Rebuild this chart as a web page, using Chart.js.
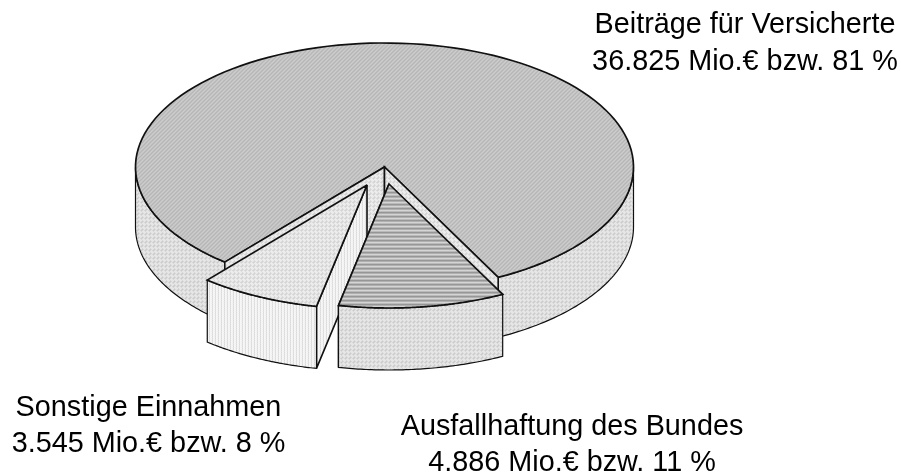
<!DOCTYPE html>
<html><head><meta charset="utf-8">
<style>html,body{margin:0;padding:0;background:#fff}canvas{display:block}</style>
<script src="https://cdn.jsdelivr.net/npm/chart.js@4"></script></head>
<body><canvas id="c" width="901" height="473"></canvas>
<script>
const categories = ["Beiträge für Versicherte", "Ausfallhaftung des Bundes", "Sonstige Einnahmen"];
const valuesMio = [36825, 4886, 3545];
const valueLabels = ["36.825 Mio.€ bzw. 81 %", "4.886 Mio.€ bzw. 11 %", "3.545 Mio.€ bzw. 8 %"];

function tile(rows){
  const h=rows.length,w=rows[0].length,t=document.createElement('canvas');t.width=w;t.height=h;
  const x=t.getContext('2d');
  rows.forEach((r,j)=>r.forEach((v,i)=>{x.fillStyle=`rgb(${v},${v},${v})`;x.fillRect(i,j,1,1);}));
  return x.createPattern(t,'repeat');
}
const ctx0=document.getElementById('c').getContext('2d');
const diag=()=>tile([[182,196,204,192],[196,204,192,182],[204,192,182,196],[192,182,196,204]]);
const dots=()=>tile([[230,230,214,230],[230,216,202,216],[214,202,214,230],[230,216,230,230]]);
const vstr=()=>tile([[246,246,218],[246,240,226]]);
const hstr=()=>tile([[150],[176],[212],[186]]);
const lightDots=()=>tile([[236,236,218,236],[236,222,210,222],[218,210,218,236],[236,222,236,236]]);

// The top of every slice is the same tilted disc, shifted to its own centre (exploded pie).
const RX=249,RY=124,DEPTH=60,DEPTH_FRONT=62;
const CENTRES={main:[384.5,167],aus:[389,184],son:[367,185]};

function discMatrix(arc,centre){
  const {x,y,outerRadius:R}=arc,a=RX/R,d=RY/R;
  return new DOMMatrix([a,0,0,d,centre[0]-a*x,centre[1]-d*y]);
}
const rimPt=(arc,m,t)=>{const p=m.transformPoint(new DOMPoint(arc.x+arc.outerRadius*Math.cos(t),arc.y+arc.outerRadius*Math.sin(t)));return [p.x,p.y];};

function poly(c,pts,fill,lw){
  c.beginPath();pts.forEach((p,i)=>i?c.lineTo(p[0],p[1]):c.moveTo(p[0],p[1]));c.closePath();
  c.fillStyle=fill;c.fill();c.lineWidth=lw;c.strokeStyle='#111';c.lineJoin='miter';c.miterLimit=3;c.stroke();
}
function rimWall(c,arc,m,t0,t1,fill,depth){
  const n=60,top=[];
  for(let i=0;i<=n;i++)top.push(rimPt(arc,m,t0+(t1-t0)*i/n));
  const bot=top.slice().reverse().map(p=>[p[0],p[1]+depth]);
  poly(c,top.concat(bot),fill,1.2);
}
function cutWall(c,apex,corner,fill,depth){
  poly(c,[apex,corner,[corner[0],corner[1]+depth],[apex[0],apex[1]+depth]],fill,1.6);
}
function face(c,arc,m,pattern,apex){
  pattern.setTransform(m.inverse());
  arc.options.backgroundColor=pattern;arc.options.borderWidth=0;
  c.save();c.setTransform(m);arc.draw(c);c.restore();
  const n=120,pts=[];
  for(let i=0;i<=n;i++)pts.push(rimPt(arc,m,arc.startAngle+(arc.endAngle-arc.startAngle)*i/n));
  c.beginPath();c.moveTo(apex[0],apex[1]);pts.forEach(p=>c.lineTo(p[0],p[1]));c.closePath();
  c.lineWidth=1.7;c.strokeStyle='#111';c.lineJoin='miter';c.miterLimit=3;c.stroke();
}
const pie3d={id:'pie3d',
  beforeDatasetDraw(chart){
    const c=chart.ctx,[main,aus,son]=chart.getDatasetMeta(0).data;
    const mM=discMatrix(main,CENTRES.main),mA=discMatrix(aus,CENTRES.aus),mS=discMatrix(son,CENTRES.son);
    const TAU=Math.PI*2;
    // outer side of the large slice (only the front is visible)
    rimWall(c,main,mM,main.endAngle-TAU,0,dots(),DEPTH);
    rimWall(c,main,mM,main.startAngle,Math.PI,dots(),DEPTH);
    face(c,main,mM,diag(),CENTRES.main);
    cutWall(c,CENTRES.main,rimPt(main,mM,main.startAngle),lightDots(),DEPTH);
    cutWall(c,CENTRES.main,rimPt(main,mM,main.endAngle),lightDots(),DEPTH);
    // smallest slice
    cutWall(c,CENTRES.son,rimPt(son,mS,son.startAngle),vstr(),DEPTH_FRONT);
    rimWall(c,son,mS,son.startAngle,son.endAngle,vstr(),DEPTH_FRONT);
    face(c,son,mS,lightDots(),CENTRES.son);
    // middle slice
    cutWall(c,CENTRES.aus,rimPt(aus,mA,aus.endAngle),lightDots(),DEPTH_FRONT);
    rimWall(c,aus,mA,aus.startAngle,aus.endAngle,dots(),DEPTH_FRONT);
    face(c,aus,mA,hstr(),CENTRES.aus);
    return false;
  },
  afterDraw(chart){
    const c=chart.ctx;c.save();c.fillStyle='#000';c.font='28.8px "Liberation Sans"';c.textAlign='center';c.textBaseline='alphabetic';
    const pos=[[745,33,745,70],[572,435,572,471],[148.5,416,148.5,452]];
    categories.forEach((t,i)=>{c.fillText(t,pos[i][0],pos[i][1]);c.fillText(valueLabels[i],pos[i][2],pos[i][3]);});
    c.restore();
  }
};
new Chart(ctx0,{type:'pie',
  data:{labels:categories,datasets:[{data:valuesMio,borderWidth:0,backgroundColor:'#ccc'}]},
  options:{responsive:false,animation:false,events:[],rotation:219.9,
    layout:{padding:0},plugins:{legend:{display:false},tooltip:{enabled:false}}},
  plugins:[pie3d]});
</script></body></html>
